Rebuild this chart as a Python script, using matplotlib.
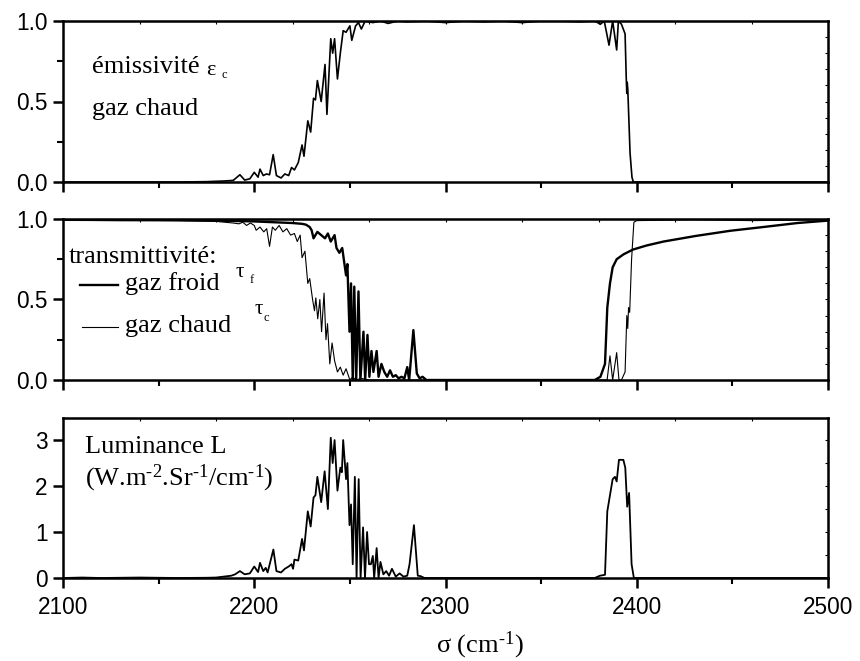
import matplotlib
matplotlib.use("Agg")
import matplotlib.pyplot as plt
import numpy as np

plt.rcParams['font.family'] = ['Liberation Sans', 'DejaVu Sans']
plt.rcParams['mathtext.fontset'] = 'custom'
plt.rcParams['mathtext.rm'] = 'Liberation Serif'
plt.rcParams['mathtext.it'] = 'Liberation Serif:italic'

# ---- data ----
eps_x = [2100, 2130, 2160, 2175, 2179, 2184, 2189, 2192.5, 2195, 2197.7, 2200, 2202, 2203, 2204.7, 2206.4,
         2208, 2209.9, 2211.6, 2214, 2216, 2218, 2219.5, 2221, 2223, 2225, 2226, 2228, 2229.5, 2231, 2232,
         2233, 2235, 2237, 2238, 2240, 2241, 2242, 2243.5, 2245, 2246.5, 2248, 2250, 2251, 2253, 2254.5,
         2256, 2258, 2262, 2266, 2270, 2275, 2280, 2290, 2300, 2310, 2320, 2330, 2340, 2350, 2360, 2370,
         2378, 2381, 2383, 2385.5, 2387.4, 2389.5, 2390.4, 2392, 2393.9, 2394.5, 2394.8, 2395.0, 2395.3,
         2396.5, 2397.5, 2398.2, 2400, 2450, 2500]
eps_y = [0, 0, 0, 0.002, 0.004, 0.006, 0.01, 0.045, 0.012, 0.02, 0.06, 0.03, 0.08, 0.04, 0.05,
         0.045, 0.17, 0.04, 0.025, 0.05, 0.04, 0.09, 0.075, 0.12, 0.23, 0.16, 0.38, 0.31, 0.52, 0.51,
         0.63, 0.5, 0.73, 0.42, 0.89, 0.8, 0.89, 0.64, 0.8, 0.94, 0.93, 0.97, 0.88, 0.97, 0.99,
         0.95, 1.0, 0.99, 1.0, 0.985, 1.0, 0.995, 1.0, 0.99, 1.0, 0.995, 1.0, 0.99, 1.0, 1.0, 0.995,
         1.0, 0.98, 1.0, 0.85, 1.0, 0.82, 1.0, 0.98, 0.92, 0.65, 0.55, 0.62, 0.58,
         0.18, 0.03, 0.0, 0, 0, 0]

tf_x = [2100, 2150, 2180, 2200, 2210, 2220, 2225, 2227, 2229, 2230, 2231, 2233, 2235, 2237, 2238.5,
        2240, 2242, 2243, 2244.5, 2246, 2248, 2248.7, 2249.8, 2250.6, 2251.5, 2252.3, 2253.3, 2254.5,
        2255.5, 2257.1, 2258, 2259.2, 2260.2, 2261.3, 2262.3, 2264, 2265, 2266.5, 2268, 2269.5, 2271,
        2272.5, 2274, 2275.5, 2277, 2278.5, 2280, 2281, 2283.2, 2285, 2286.5, 2288, 2290, 2300, 2350,
        2378, 2381, 2383.4, 2384.6, 2386, 2387.4, 2389.5, 2393, 2398, 2405, 2414, 2431, 2449, 2466,
        2484, 2500]
tf_y = [0.995, 0.993, 0.99, 0.985, 0.98, 0.975, 0.97, 0.965, 0.95, 0.93, 0.88, 0.92, 0.9, 0.88, 0.91,
        0.86, 0.9, 0.82, 0.79, 0.82, 0.65, 0.72, 0.3, 0.6, 0.0, 0.58, 0.0, 0.55,
        0.0, 0.3, 0.0, 0.28, 0.02, 0.18, 0.05, 0.18, 0.02, 0.1, 0.05, 0.02, 0.06,
        0.02, 0.03, 0.01, 0.02, 0.01, 0.08, 0.0, 0.31, 0.04, 0.01, 0.02, 0.0, 0.0, 0.0,
        0.0, 0.02, 0.1, 0.45, 0.6, 0.7, 0.75, 0.78, 0.81, 0.835, 0.86, 0.895, 0.927, 0.95,
        0.975, 0.99]

tc_x = [2100, 2130, 2160, 2180, 2189, 2192, 2194, 2196, 2198, 2200, 2201, 2203, 2205, 2206.5, 2208,
        2209.5, 2211, 2213, 2215, 2217, 2219, 2221, 2222.5, 2224, 2225, 2226.5, 2228, 2229, 2230.5,
        2231.5, 2232.2, 2233.2, 2234.3, 2235.2, 2236.5, 2237.5, 2238.3, 2239.5, 2240.7, 2242, 2243.5,
        2245, 2246.5, 2248, 2250, 2251.5, 2253, 2256, 2260, 2270, 2300, 2383, 2384.5, 2386, 2387.4,
        2389.5, 2390.7, 2392, 2393.9, 2394.8, 2395.3, 2395.7, 2396.3, 2397.3, 2398.5, 2400, 2430,
        2460, 2500]
tc_y = [0.992, 0.99, 0.99, 0.985, 0.975, 0.97, 0.98, 0.96, 0.975, 0.96, 0.93, 0.95, 0.92, 0.94, 0.83,
        0.95, 0.93, 0.96, 0.92, 0.94, 0.9, 0.91, 0.86, 0.9, 0.76, 0.8, 0.6, 0.63, 0.5,
        0.43, 0.51, 0.38, 0.5, 0.3, 0.54, 0.25, 0.35, 0.1, 0.23, 0.12, 0.05,
        0.08, 0.03, 0.07, 0.0, 0.02, 0.0, 0.01, 0.0, 0.0, 0.0, 0.0, 0.0, 0.15, 0.0,
        0.17, 0.0, 0.0, 0.05, 0.4, 0.32, 0.45, 0.42, 0.75, 0.98, 0.99, 0.995,
        0.99, 0.995]

lum_x = [2100, 2110, 2120, 2140, 2160, 2175, 2180, 2184, 2188, 2190, 2192.5, 2195, 2197.7, 2200, 2202,
         2203, 2204.7, 2206, 2207, 2210, 2211.6, 2214, 2216, 2218, 2219.5, 2220.3, 2221, 2223, 2225,
         2226, 2228, 2229.5, 2231, 2232, 2233, 2235, 2236.8, 2238.5, 2240, 2241, 2242, 2243.5, 2245,
         2245.8, 2246.5, 2248, 2248.7, 2249.8, 2250.6, 2251.5, 2252.6, 2253.5, 2254.6, 2255.6, 2256.9,
         2257.9, 2259, 2260, 2261, 2262, 2262.7, 2264, 2265, 2266, 2267.5, 2269, 2270.5, 2272, 2274,
         2276, 2278, 2280, 2281.2, 2283.5, 2285.5, 2287, 2289, 2300, 2350, 2378, 2380.8, 2383.4,
         2384.6, 2386, 2387.4, 2388.6, 2389.5, 2390.7, 2393, 2394, 2395, 2396, 2397.3, 2398.5, 2400,
         2450, 2500]
lum_y = [0, 0.01, 0, 0.01, 0, 0.005, 0.01, 0.03, 0.05, 0.08, 0.15, 0.08, 0.1, 0.25, 0.13,
         0.33, 0.15, 0.22, 0.12, 0.62, 0.15, 0.12, 0.2, 0.25, 0.3, 0.2, 0.4, 0.38, 0.85,
         0.6, 1.45, 1.12, 1.75, 1.8, 2.2, 1.65, 2.32, 1.5, 3.05, 2.5, 3.0, 1.9, 2.4,
         2.3, 3.0, 2.15, 2.5, 1.15, 1.6, 0.3, 2.2, 0.0, 2.15, 0.0, 1.1,
         0.0, 1.0, 0.3, 0.3, 0.48, 0.0, 0.65, 0.0, 0.35, 0.08, 0.15, 0.05, 0.2, 0.03,
         0.1, 0.03, 0.05, 0.3, 1.15, 0.05, 0.04, 0.0, 0, 0, 0, 0.05, 0.07,
         1.45, 1.8, 2.15, 2.2, 2.1, 2.57, 2.57, 2.4, 1.55, 1.85, 0.3, 0.0, 0,
         0, 0]

x_ticks = [2100, 2200, 2300, 2400, 2500]
x_tick_labels = ['2100', '2200', '2300', '2400', '2500']

# ---- figure ----
fig = plt.figure(figsize=(8.6, 6.61), dpi=100)
L, W, H = 63 / 860, 765 / 860, 161 / 661
ax1 = fig.add_axes([L, 1 - 182 / 661, W, H])
ax2 = fig.add_axes([L, 1 - 380 / 661, W, H])
ax3 = fig.add_axes([L, 1 - 578 / 661, W, 160 / 661])

serif = ['Liberation Serif', 'DejaVu Serif']
tick_fs = 16.3

for ax in (ax1, ax2, ax3):
    ax.set_xlim(2100, 2500)
    for s in ax.spines.values():
        s.set_linewidth(1.8)
    ax.set_xticks(x_ticks)
    ax.set_xticks([2150, 2250, 2350, 2450], minor=True)
    ax.tick_params(axis='both', which='major', direction='out', length=7, width=1.8,
                   labelsize=tick_fs, pad=4, top=False, right=False)
    ax.tick_params(axis='both', which='minor', direction='out', length=4.5, width=1.5,
                   top=False, right=False)
    sx = ax.secondary_xaxis('top')
    sx.set_xticks(np.arange(2140, 2500, 40))
    sx.tick_params(direction='in', length=2, width=0.8, labeltop=False)
    sx.set_xticklabels([])

for ax in (ax1, ax2):
    ax.set_ylim(0, 1)
    ax.set_yticks([0, 0.5, 1.0])
    ax.set_yticklabels(['0.0', '0.5', '1.0'])
    ax.set_yticks([0.25, 0.75], minor=True)
    ax.set_xticklabels([])
    sy = ax.secondary_yaxis('right')
    sy.set_yticks(np.arange(0.1, 1.0, 0.1))
    sy.tick_params(direction='in', length=2, width=0.8)
    sy.set_yticklabels([])

ax3.set_ylim(0, 3.48)
ax3.set_yticks([0, 1, 2, 3])
ax3.set_yticklabels(['0', '1', '2', '3'])
ax3.set_xticklabels(x_tick_labels)
ax3.tick_params(axis='x', which='major', pad=6)
sy3 = ax3.secondary_yaxis('right')
sy3.set_yticks([0.5, 1, 1.5, 2, 2.5, 3])
sy3.tick_params(direction='in', length=2, width=0.8)
sy3.set_yticklabels([])

# lines
ax1.plot(eps_x, eps_y, color='black', lw=1.2)
ax2.plot(tf_x, tf_y, color='black', lw=1.7)
ax2.plot(tc_x, tc_y, color='black', lw=0.8)
ax3.plot(lum_x, lum_y, color='black', lw=1.3)

# annotations (positions in figure pixels)
FS = 19


def figtext(x, y, s, size=FS, **kw):
    return fig.text(x / 860, 1 - y / 661, s, fontsize=size, family=serif,
                    va='baseline', ha='left', **kw)


figtext(92, 73, 'émissivité')
figtext(206, 75, 'ε', size=16)
figtext(222, 78, 'c', size=9)
figtext(92, 115, 'gaz chaud')

figtext(69, 263, 'transmittivité:')
figtext(125, 290, 'gaz froid')
figtext(236, 277, 'τ', size=15)
figtext(250, 283, 'f', size=9)
figtext(125, 332, 'gaz chaud')
figtext(255, 314, 'τ', size=15)
figtext(264, 321, 'c', size=9)
fig.add_artist(plt.Line2D([80 / 860, 118 / 860], [1 - 285 / 661] * 2, color='black', lw=1.7))
fig.add_artist(plt.Line2D([82 / 860, 118 / 860], [1 - 327 / 661] * 2, color='black', lw=0.8))

figtext(85, 453, 'Luminance L')
hy = '\u2010'
figtext(85, 485, '(W.m$^{\\mathrm{' + hy + '2}}$.Sr$^{\\mathrm{' + hy + '1}}$/cm$^{\\mathrm{' + hy + '1}}$)')

fig.text(480 / 860, 1 - 652 / 661, 'σ (cm$^{\\mathrm{' + hy + '1}}$)', fontsize=FS, family=serif,
         ha='center', va='baseline')

fig.savefig('out.png', dpi=100, facecolor='white')
